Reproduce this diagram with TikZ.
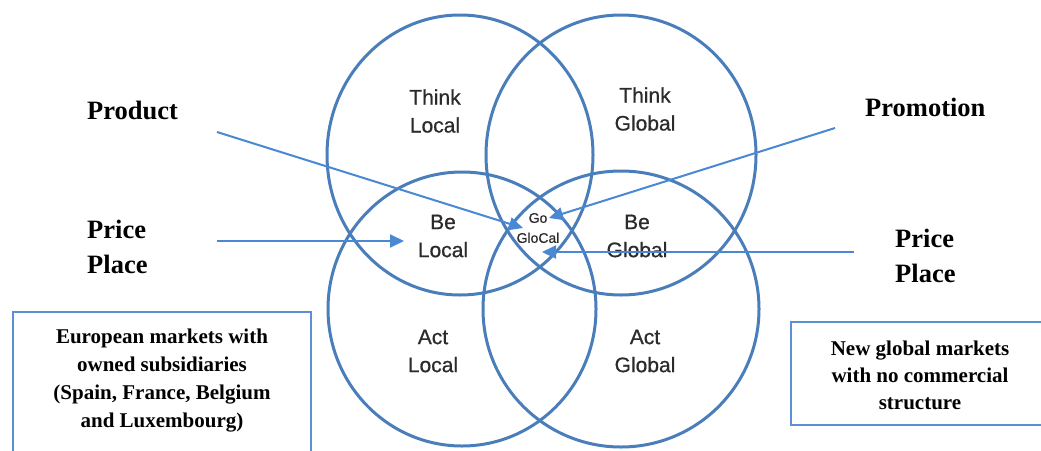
\documentclass[tikz,border=0pt]{standalone}
\usepackage{fontspec}
\setmainfont{Liberation Serif}
\newfontfamily\arialf[FakeBold=0.7]{Liberation Sans}
\usetikzlibrary{arrows.meta}
\definecolor{ringblue}{HTML}{4A7EBB}
\definecolor{arrowblue}{HTML}{4A88D4}
\definecolor{boxblue}{HTML}{5B8FD6}
\definecolor{lbl}{HTML}{2B2B2B}
\begin{document}
\begin{tikzpicture}[x=1pt,y=-1pt,
 ring/.style={draw=ringblue,line width=3pt},
 inlabel/.style={align=center,text=lbl,inner sep=0pt,font=\arialf\fontsize{21}{28}\selectfont},
 smalllabel/.style={align=center,text=lbl,inner sep=0pt,font=\arialf\fontsize{14}{20}\selectfont},
 outlabel/.style={inner sep=0pt,align=left,font=\bfseries\fontsize{26.5}{35}\selectfont},
 boxtext/.style={align=center,inner sep=0pt,font=\bfseries\fontsize{21}{28}\selectfont},
 link/.style={draw=arrowblue,line width=2pt,-{Triangle[length=14pt,width=13pt]}},
 frame/.style={draw=boxblue,line width=2.2pt}]
\useasboundingbox[fill=white] (0,0) rectangle (1041,450);
% rings
\draw[ring] (460,155) ellipse [x radius=133, y radius=140];
\draw[ring] (621,155) ellipse [x radius=135, y radius=140];
\draw[ring] (462,309) ellipse [x radius=134, y radius=137];
\draw[ring] (621,309) ellipse [x radius=138, y radius=138];
% ring labels
\node[inlabel] (tl) at (435,111) {Think\\Local};
\node[inlabel] (tg) at (645,109) {Think\\Global};
\node[inlabel] (bl) at (443,236) {Be\\Local};
\node[inlabel] (bg) at (637,236) {Be\\Global};
\node[inlabel] (al) at (433,351) {Act\\Local};
\node[inlabel] (ag) at (645,351) {Act\\Global};
\node[smalllabel] (go) at (538,228) {Go\\GloCal};
% outer labels
\node[outlabel,anchor=base west] (prod) at (87,119) {Product};
\node[outlabel,anchor=west] (ppl) at (87,247) {Price\\Place};
\node[outlabel,anchor=base west] (prom) at (865,116) {Promotion};
\node[outlabel,anchor=west] (ppr) at (895,256) {Price\\Place};
% arrows
\coordinate (prodS) at (217,132);
\coordinate (prodT) at (523,228);
\coordinate (pplS) at (217,241);
\coordinate (pplT) at (404,241);
\coordinate (promS) at (835,128);
\coordinate (promT) at (549,218);
\coordinate (pprS) at (854,252);
\coordinate (pprT) at (542,252);
\draw[link] (prodS) -- (prodT);
\draw[link] (pplS) -- (pplT);
\draw[link] (promS) -- (promT);
\draw[link] (pprS) -- (pprT);
% boxes
\draw[frame] (13,455) -- (13,312) -- (311,312) -- (311,455);
\node[boxtext] (eu) at (162,381) {European markets with\\owned subsidiaries\\(Spain, France, Belgium\\and Luxembourg)};
\draw[frame] (1046,322) -- (791,322) -- (791,425) -- (1046,425);
\node[boxtext,font=\bfseries\fontsize{21}{27}\selectfont] (ng) at (920,375) {New global markets\\with no commercial\\structure};
\end{tikzpicture}
\end{document}
